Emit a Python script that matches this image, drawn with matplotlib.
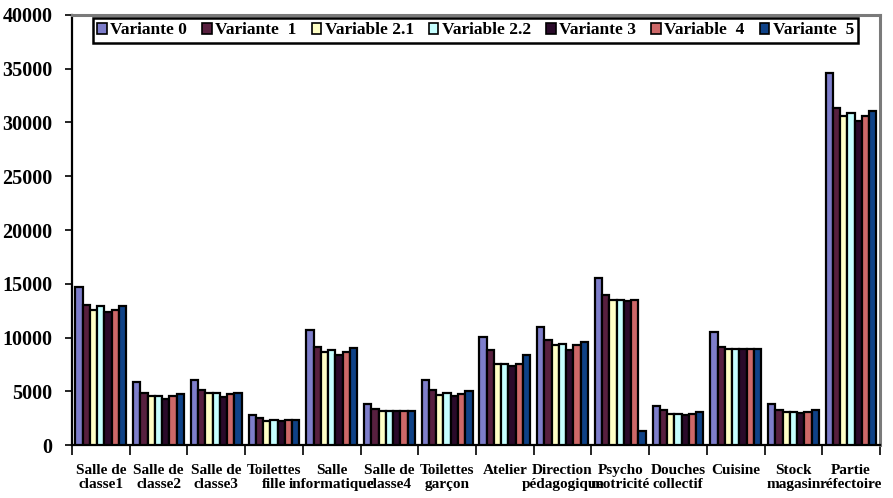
import numpy as np
import matplotlib
matplotlib.use("Agg")
import matplotlib.pyplot as plt
from matplotlib.patches import Patch

plt.rcParams['font.family'] = ['Liberation Serif', 'DejaVu Serif']
plt.rcParams['font.weight'] = 'bold'

categories = ["Salle de\nclasse1", "Salle de\nclasse2", "Salle de\nclasse3", "Toilettes\nfille",
              "Salle\ninformatique", "Salle de\nclasse4", "Toilettes\ngarçon", "Atelier\n",
              "Direction\npédagogique", "Psycho\nmotricité", "Douches\ncollectif", "Cuisine\n",
              "Stock\nmagasin", "Partie\nréfectoire"]

series_names = ["Variante 0", "Variante  1", "Variable 2.1", "Variable 2.2",
                "Variante 3", "Variable  4", "Variante  5"]

variante_0 = [14700, 5850, 6030, 2830, 10720, 3820, 6030, 10010, 11000, 15540, 3670, 10470, 3820, 34650]
variante_1 = [13050, 4820, 5130, 2550, 9080, 3390, 5130, 8830, 9730, 13990, 3260, 9110, 3260, 31390]
variable_21 = [12590, 4570, 4820, 2210, 8610, 3200, 4660, 7580, 9260, 13520, 2890, 8920, 3110, 30610]
variable_22 = [12900, 4570, 4820, 2330, 8830, 3200, 4820, 7580, 9350, 13520, 2890, 8920, 3110, 30860]
variante_3 = [12370, 4320, 4440, 2210, 8330, 3200, 4600, 7370, 8860, 13360, 2830, 8920, 2950, 30150]
variable_4 = [12590, 4570, 4720, 2330, 8610, 3200, 4760, 7580, 9260, 13520, 2890, 8920, 3110, 30610]
variante_5 = [12930, 4720, 4820, 2330, 8980, 3200, 5000, 8330, 9540, 1340, 3080, 8920, 3260, 31080]

series = [variante_0, variante_1, variable_21, variable_22, variante_3, variable_4, variante_5]
colors = ['#7e7ecb', '#58203f', '#ffffc6', '#c6ffff', '#2a0a2a', '#cd6868', '#0f4287']

fig = plt.figure(figsize=(8.93, 4.98), dpi=100)
ax = fig.add_axes([0.0806, 0.1064, 0.9048, 0.8635])

x = np.arange(len(categories))
n = len(series)
w = 0.88 / n
for i, (vals, col) in enumerate(zip(series, colors)):
    ax.bar(x + (i - (n - 1) / 2) * w, vals, width=w, color=col,
           edgecolor='black', linewidth=1.6, zorder=3)

ax.set_xlim(-0.5, len(categories) - 0.5)
ax.set_ylim(0, 40000)
ax.set_yticks(np.arange(0, 40001, 5000))
ax.tick_params(axis='y', direction='out', length=5, width=1.2, pad=9, labelsize=14.5)
for lbl in ax.get_yticklabels():
    lbl.set_fontweight('bold')

# group boundary ticks below the axis, category labels centred
ax.set_xticks(np.arange(-0.5, len(categories), 1.0))
ax.set_xticklabels([])
ax.tick_params(axis='x', which='major', direction='out', length=7, width=1.2)
ax.set_xticks(x, minor=True)
ax.set_xticklabels(categories, minor=True, fontsize=11, fontweight='bold', linespacing=1.1)
ax.tick_params(axis='x', which='minor', length=0, pad=14)

for s in ['left', 'bottom']:
    ax.spines[s].set_color('black')
    ax.spines[s].set_linewidth(1.6)
for s in ['top', 'right']:
    ax.spines[s].set_color('#7a7a7a')
    ax.spines[s].set_linewidth(2.2)

handles = [Patch(facecolor=c, edgecolor='black', linewidth=1.2) for c in colors]
leg = ax.legend(handles, series_names, ncol=7, loc='upper left',
                bbox_to_anchor=(0.026, 0.933, 0.947, 0.06), mode='expand',
                prop={'family': 'Liberation Serif', 'weight': 'bold', 'size': 12.5},
                handlelength=0.55, handleheight=0.6, handletextpad=0.2,
                columnspacing=0.4, borderpad=0.25, borderaxespad=0.0,
                fancybox=False, framealpha=1, edgecolor='black')
leg.get_frame().set_linewidth(1.8)

fig.savefig("out.png", dpi=100, facecolor='white')
